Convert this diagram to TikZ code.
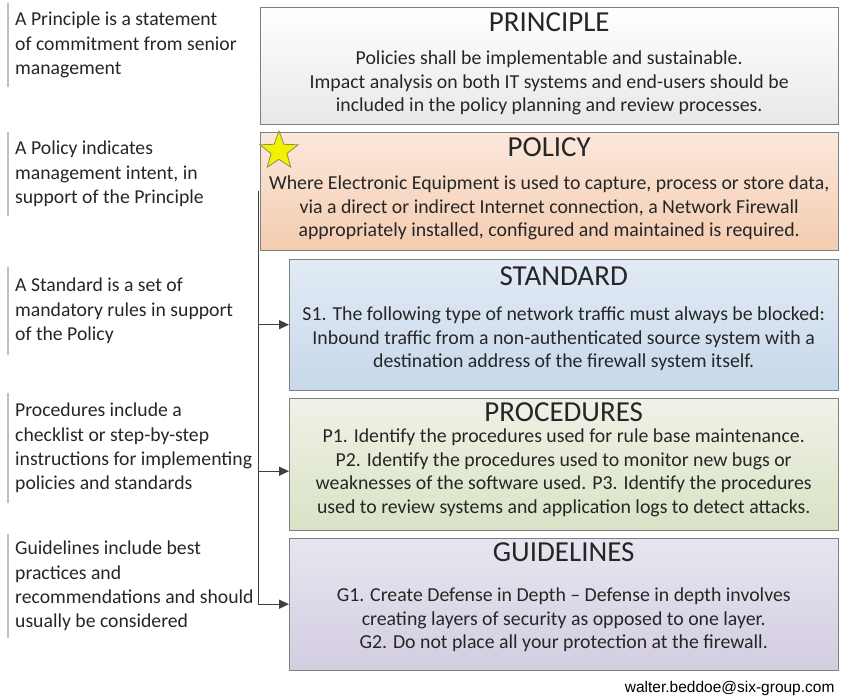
\documentclass[tikz,border=0pt]{standalone}
\usepackage{fontspec}
\setmainfont{Carlito}
\newfontfamily\footerfont{Liberation Sans}
\usetikzlibrary{calc, shapes.geometric, arrows.meta, shadows}

\definecolor{inkgray}{HTML}{262626}
\definecolor{framegray}{HTML}{7F7F7F}
\definecolor{bargray}{HTML}{BFBFBF}
\definecolor{wiregray}{HTML}{3F3F3F}
\definecolor{policytop}{HTML}{FBE8DC}
\definecolor{policybot}{HTML}{F4CCB0}
\definecolor{standardtop}{HTML}{E2EBF5}
\definecolor{standardbot}{HTML}{C7D8EA}
\definecolor{proceduretop}{HTML}{EFF2E7}
\definecolor{procedurebot}{HTML}{D9E2C5}
\definecolor{guidetop}{HTML}{E8E5EF}
\definecolor{guidebot}{HTML}{D3CDE1}
\definecolor{staryellow}{HTML}{F2F200}
\definecolor{starrim}{HTML}{8C8C5A}

\begin{document}
\begin{tikzpicture}[x=1pt, y=-1pt, text=inkgray]
    \tikzstyle{layer} = [rectangle, draw=framegray, anchor=north west, inner sep=0pt,
        drop shadow={shadow xshift=1.2pt, shadow yshift=-1.2pt, opacity=.35}]
    \tikzstyle{heading} = [font=\fontsize{29}{32}\selectfont, inner sep=0pt]
    \tikzstyle{body} = [align=center, inner sep=0pt, font=\fontsize{19.8}{23.5}\selectfont]
    \tikzstyle{note} = [anchor=west, align=left, inner xsep=7pt, inner ysep=0pt,
        font=\fontsize{19.7}{24.4}\selectfont]
    \tikzstyle{notebar} = [draw=bargray, line width=1.6pt]
    \tikzstyle{wire} = [draw=wiregray, line width=1.4pt, -{Triangle[length=10pt, width=9pt]}]

    \useasboundingbox (0, 0) rectangle (841, 696);

    % Layers --------------------------------------------
    \node[layer, minimum width=578, minimum height=117, top color=white, bottom color=black!9] (principle) at (260, 7) {};
    \node[layer, minimum width=578, minimum height=118, top color=policytop, bottom color=policybot] (policy) at (260, 132) {};
    \node[layer, minimum width=549, minimum height=131, top color=standardtop, bottom color=standardbot] (standard) at (289, 259) {};
    \node[layer, minimum width=549, minimum height=132, top color=proceduretop, bottom color=procedurebot] (procedures) at (289, 398) {};
    \node[layer, minimum width=549, minimum height=132, top color=guidetop, bottom color=guidebot] (guidelines) at (289, 538) {};

    \node[heading] (principle_title) at ($(principle.north) + (0, 15)$) {PRINCIPLE};
    \node[body] (principle_text) at ($(principle.north) + (0, 76)$) {
        Policies shall be implementable and sustainable.\\
        Impact analysis on both IT systems and end-users should be\\
        included in the policy planning and review processes.};

    \node[heading] (policy_title) at ($(policy.north) + (0, 15)$) {POLICY};
    \node[body] (policy_text) at ($(policy.north) + (0, 76)$) {
        Where Electronic Equipment is used to capture, process or store data,\\
        via a direct or indirect Internet connection, a Network Firewall\\
        appropriately installed, configured and maintained is required.};

    \node[heading] (standard_title) at ($(standard.north) + (0, 17)$) {STANDARD};
    \node[body] (standard_text) at ($(standard.north) + (0, 80)$) {
        S1. The following type of network traffic must always be blocked:\\
        Inbound traffic from a non-authenticated source system with a\\
        destination address of the firewall system itself.};

    \node[heading] (procedures_title) at ($(procedures.north) + (0, 14)$) {PROCEDURES};
    \node[body] (procedures_text) at ($(procedures.north) + (0, 75)$) {
        P1. Identify the procedures used for rule base maintenance.\\
        P2. Identify the procedures used to monitor new bugs or\\
        weaknesses of the software used. P3. Identify the procedures\\
        used to review systems and application logs to detect attacks.};

    \node[heading] (guidelines_title) at ($(guidelines.north) + (0, 14)$) {GUIDELINES};
    \node[body] (guidelines_text) at ($(guidelines.north) + (0, 82)$) {
        G1. Create Defense in Depth -- Defense in depth involves\\
        creating layers of security as opposed to one layer.\\
        G2. Do not place all your protection at the firewall.};

    \node[star, star points=5, star point ratio=2.4, minimum size=40, inner sep=0pt,
        fill=staryellow, draw=starrim, line width=.8pt] (star) at (279, 151) {};
    % ---------------------------------------------------

    % Notes ---------------------------------------------
    \node[note, minimum height=84] (principle_note) at (8, 45) {
        A Principle is a statement\\
        of commitment from senior\\
        management};
    \node[note, minimum height=84] (policy_note) at (8, 174) {
        A Policy indicates\\
        management intent, in\\
        support of the Principle};
    \node[note, minimum height=87] (standard_note) at (8, 311) {
        A Standard is a set of\\
        mandatory rules in support\\
        of the Policy};
    \node[note, minimum height=110] (procedures_note) at (8, 448) {
        Procedures include a\\
        checklist or step-by-step\\
        instructions for implementing\\
        policies and standards};
    \node[note, minimum height=104] (guidelines_note) at (8, 586) {
        Guidelines include best\\
        practices and\\
        recommendations and should\\
        usually be considered};

    \foreach \n in {principle_note, policy_note, standard_note, procedures_note, guidelines_note}
        \draw[notebar] (\n.north west) -- (\n.south west);
    % ---------------------------------------------------

    % Connectors ----------------------------------------
    \draw[wire] ($(policy.west) + (-1.5, 0)$) |- (standard.west);
    \draw[wire] ($(policy.west) + (-1.5, 0)$) |- ($(procedures.west) + (0, 7)$);
    \draw[wire] ($(policy.west) + (-1.5, 0)$) |- (guidelines.west);

    \node[anchor=east, font=\footerfont\fontsize{15.5}{18}\selectfont, text=black] (footer) at (838, 688) {walter.beddoe@six-group.com};
\end{tikzpicture}
\end{document}
